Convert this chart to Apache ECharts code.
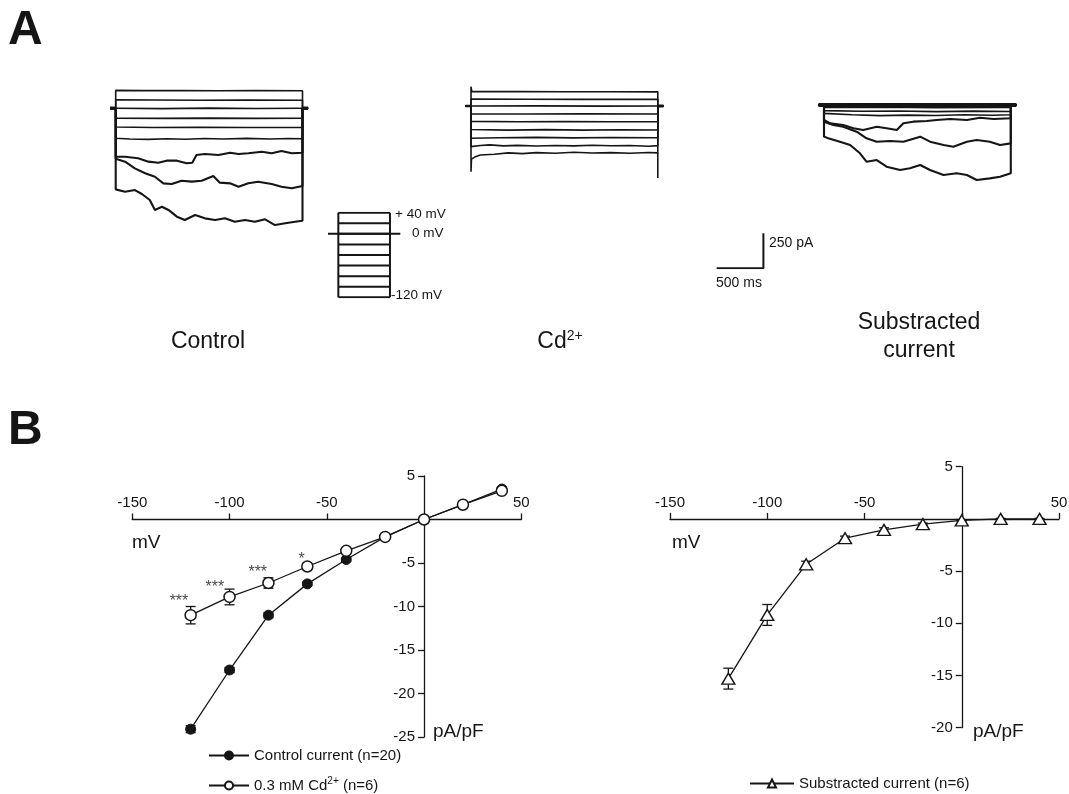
<!DOCTYPE html>
<html>
<head>
<meta charset="utf-8">
<script src="https://cdn.jsdelivr.net/npm/echarts@6/dist/echarts.min.js"></script>
<style>
  html, body { margin: 0; padding: 0; background: #fff; }
  #main { width: 1069px; height: 794px; }
</style>
</head>
<body>
<div id="main"></div>
<script>
// ---- panel A : current traces (t in ms, current in pA, relative to holding) ----
const ctrlP40 = [[0,128],[300,126],[700,127],[1100,125],[1500,126],[2000,125]];
const ctrlP20 = [[0,60],[400,59],[900,58],[1400,59],[2000,58]];
const ctrl0 = [[0,0],[500,-2],[1000,1],[1500,-1],[2000,0]];
const ctrlM20 = [[0,-70],[500,-72],[1000,-70],[1500,-72],[2000,-71]];
const ctrlM40 = [[0,-134],[400,-137],[900,-135],[1400,-137],[2000,-136]];
const ctrlM60 = [[0,-214],[150,-219],[350,-222],[550,-217],[750,-221],[950,-216],[1150,-219],[1400,-215],[1650,-219],[1850,-216],[2000,-218]];
const ctrlM80 = [[0,-345],[100,-346],[240,-357],[350,-381],[455,-389],[545,-374],[655,-374],[760,-393],[820,-389],[865,-334],[955,-326],[1100,-334],[1225,-317],[1315,-326],[1420,-321],[1565,-310],[1670,-321],[1775,-305],[1885,-321],[2000,-317]];
const ctrlM100 = [[0,-360],[100,-381],[205,-429],[315,-464],[420,-489],[510,-536],[600,-541],[705,-517],[815,-524],[920,-517],[1045,-484],[1115,-531],[1225,-536],[1315,-560],[1420,-536],[1525,-524],[1670,-541],[1775,-560],[1885,-571],[2000,-555]];
const ctrlM120 = [[0,-579],[100,-596],[205,-584],[280,-612],[365,-655],[420,-726],[495,-703],[565,-726],[655,-774],[740,-798],[850,-762],[955,-786],[1065,-798],[1170,-786],[1275,-810],[1385,-798],[1490,-810],[1600,-793],[1705,-834],[1815,-821],[1920,-810],[2000,-803]];

const cdP40 = [[0,138],[8,104],[500,103],[1000,102],[1500,102],[2000,101]];
const cdP20 = [[0,49],[600,48],[1200,47],[2000,48]];
const cd0 = [[0,0],[700,1],[1400,-1],[2000,0]];
const cdM20 = [[0,-56],[600,-57],[1200,-56],[2000,-57]];
const cdM40 = [[0,-110],[500,-113],[1000,-111],[1500,-113],[2000,-112]];
const cdM60 = [[0,-168],[400,-172],[800,-169],[1200,-172],[1600,-170],[2000,-171]];
const cdM80 = [[0,-230],[300,-227],[700,-224],[1100,-228],[1500,-225],[2000,-227]];
const cdM100 = [[0,-290],[100,-282],[200,-278],[350,-285],[500,-281],[700,-286],[900,-282],[1100,-285],[1300,-280],[1500,-284],[1700,-282],[1900,-287],[2000,-283]];
const cdM120 = [[0,-470],[5,-380],[40,-365],[100,-350],[250,-345],[400,-335],[550,-340],[700,-333],[900,-338],[1100,-330],[1300,-336],[1500,-333],[1700,-337],[1900,-332],[2000,-335],[2000,-514]];

const subP40 = [[0,8],[1000,8],[2000,8]];
const subP20 = [[0,0],[2000,0]];
const sub0 = [[0,-8],[2000,-8]];
const subM20 = [[0,-18],[600,-16],[1200,-19],[2000,-17]];
const subM40 = [[0,-40],[400,-45],[800,-43],[1200,-47],[1600,-44],[2000,-46]];
const subM60 = [[0,-60],[300,-70],[600,-76],[900,-72],[1200,-75],[1500,-70],[1800,-73],[2000,-70]];
const subM80 = [[0,-107],[65,-131],[205,-143],[315,-166],[420,-179],[565,-155],[670,-166],[780,-179],[850,-131],[955,-119],[1100,-114],[1205,-107],[1350,-100],[1530,-107],[1670,-91],[1815,-100],[2000,-95]];
const subM100 = [[0,-119],[100,-143],[205,-155],[350,-191],[455,-238],[565,-262],[705,-257],[850,-262],[1030,-226],[1135,-262],[1280,-286],[1385,-298],[1530,-262],[1635,-250],[1775,-262],[1885,-286],[2000,-274]];
const subM120 = [[0,-226],[45,-238],[170,-262],[280,-286],[385,-345],[455,-405],[565,-393],[670,-441],[815,-464],[920,-452],[1030,-429],[1135,-464],[1280,-500],[1420,-488],[1530,-500],[1635,-536],[1775,-524],[1885,-512],[2000,-488]];

// voltage protocol (mV)
const stepLevels = [40, 20, 0, -20, -40, -60, -80, -100, -120];
// scale bar (ms, pA)
const scaleBar = [[0, 0], [500, 0], [500, 250]];

// ---- panel B : I-V curves ----
const ivVolt = [-120, -100, -80, -60, -40, -20, 0, 20, 40];
const ctrlIV = [-24.1, -17.3, -11.0, -7.4, -4.6, -2.0, 0, 1.7, 3.5];
const ctrlErr = [0.4, 0.3, 0.3, 0.2, 0.2, 0.1, 0, 0.1, 0.2];
const cdIV = [-11.0, -8.9, -7.3, -5.4, -3.6, -2.0, 0, 1.7, 3.3];
const cdErr = [1.0, 0.9, 0.6, 0.3, 0.3, 0.2, 0, 0.1, 0.2];
const subIV = [-15.3, -9.2, -4.35, -1.85, -1.05, -0.5, -0.15, 0, 0];
const subErr = [1.0, 1.0, 0.3, 0.2, 0.2, 0.1, 0.05, 0.05, 0.05];
const starVolt = [-126, -107.5, -85.5, -63];
const starVal = [-9.4, -7.8, -6.1, -4.6];
const starText = ['***', '***', '***', '*'];

const FONT = '"Liberation Sans", Arial, Helvetica, sans-serif';
const INK = '#151515';
const NAME_CTRL = 'Control current (n=20)';
const NAME_CD = '0.3 mM Cd2+ (n=6)';
const NAME_SUB = 'Substracted current (n=6)';

var chart = echarts.init(document.getElementById('main'));

function traceSeries(idx, pts, width) {
  // holding -> step -> holding
  var d = [[-60, 0], [0, 0]].concat(pts, [[2000, 0], [2060, 0]]);
  return {
    type: 'line', xAxisIndex: idx, yAxisIndex: idx, data: d,
    symbol: 'none', silent: true, animation: false,
    lineStyle: { color: INK, width: width || 1.6 }
  };
}
function stub(idx, a, b, w) {
  return {
    type: 'line', xAxisIndex: idx, yAxisIndex: idx, data: [[a, 0], [b, 0]],
    symbol: 'none', silent: true, animation: false,
    lineStyle: { color: INK, width: w, cap: 'butt' }
  };
}
function plain(idx, d, w) {
  return {
    type: 'line', xAxisIndex: idx, yAxisIndex: idx, data: d,
    symbol: 'none', silent: true, animation: false,
    lineStyle: { color: INK, width: w }
  };
}
function errRender(params, api) {
  var x = api.value(0);
  var lo = api.coord([x, api.value(1)]);
  var hi = api.coord([x, api.value(2)]);
  var w = 5, st = { stroke: INK, lineWidth: 1.3 };
  return {
    type: 'group', children: [
      { type: 'line', shape: { x1: lo[0], y1: lo[1], x2: hi[0], y2: hi[1] }, style: st },
      { type: 'line', shape: { x1: lo[0] - w, y1: lo[1], x2: lo[0] + w, y2: lo[1] }, style: st },
      { type: 'line', shape: { x1: hi[0] - w, y1: hi[1], x2: hi[0] + w, y2: hi[1] }, style: st }
    ]
  };
}
function errSeries(idx, vals, errs) {
  var d = [];
  ivVolt.forEach(function (v, i) {
    if (errs[i] > 0) d.push([v, vals[i] - errs[i], vals[i] + errs[i]]);
  });
  return {
    type: 'custom', xAxisIndex: idx, yAxisIndex: idx, data: d, z: 2,
    renderItem: errRender, silent: true, animation: false,
    encode: { x: 0, y: [1, 2] }
  };
}
function zip(xs, ys) { return xs.map(function (x, i) { return [x, ys[i]]; }); }

function hiddenAxis(idx, min, max) { return { gridIndex: idx, type: 'value', min: min, max: max, show: false }; }

// axes cross at 0: shift with a negative offset instead of onZero
function ivX(idx, offset) {
  return {
    gridIndex: idx, type: 'value', min: -150, max: 50, interval: 50, position: 'top', offset: offset,
    axisLine: { onZero: false, lineStyle: { color: INK, width: 1.3 } },
    axisTick: { show: true, length: 6, lineStyle: { color: INK, width: 1.3 } },
    axisLabel: { fontSize: 15, color: INK, fontFamily: FONT, margin: 9,
      formatter: function (v) { return v === 0 ? '' : v; } },
    splitLine: { show: false }
  };
}
function ivY(idx, min, offset) {
  return {
    gridIndex: idx, type: 'value', min: min, max: 5, interval: 5, position: 'left', offset: offset,
    axisLine: { onZero: false, lineStyle: { color: INK, width: 1.3 } },
    axisTick: { show: true, length: 6, lineStyle: { color: INK, width: 1.3 } },
    axisLabel: { fontSize: 15, color: INK, fontFamily: FONT, margin: 9,
      formatter: function (v) { return v === 0 ? '' : v; } },
    splitLine: { show: false }
  };
}

var grids = [
  { left: 110.1, top: 80.3, width: 198, height: 154 },   // control traces
  { left: 465.4, top: 78, width: 198, height: 154 },     // Cd traces
  { left: 818.4, top: 77, width: 198, height: 154 },     // substracted traces
  { left: 716.7, top: 233.3, width: 46.7, height: 35 },  // scale bar
  { left: 328, top: 212.7, width: 72.3, height: 84.6 },  // protocol
  { left: 132.3, top: 476, width: 389, height: 261 },    // IV left
  { left: 670, top: 466.7, width: 389, height: 261 }     // IV right
].map(function (g) { g.containLabel = false; g.outerBoundsMode = 'none'; return g; });

var series = [];
[ctrlP40, ctrlP20, ctrl0, ctrlM20, ctrlM40, ctrlM60].forEach(function (t) { series.push(traceSeries(0, t)); });
[ctrlM80, ctrlM100, ctrlM120].forEach(function (t) { series.push(traceSeries(0, t, 2.1)); });
series.push(stub(0, -60, 0, 3.5), stub(0, 2000, 2060, 3.5));
[cdP40, cdP20, cd0, cdM20, cdM40, cdM60, cdM80, cdM100, cdM120]
  .forEach(function (t) { series.push(traceSeries(1, t)); });
series.push(stub(1, -60, 0, 2.5), stub(1, 2000, 2060, 3));
series.push(stub(2, -60, 2060, 4));
[subP40, subP20, sub0, subM20, subM40, subM60].forEach(function (t) { series.push(traceSeries(2, t)); });
[subM80, subM100, subM120].forEach(function (t) { series.push(traceSeries(2, t, 2.1)); });

series.push(plain(3, scaleBar, 2));

stepLevels.forEach(function (v) { series.push(plain(4, [[0, v], [1, v]], 2)); });
series.push(plain(4, [[0, -120], [0, 40]], 2), plain(4, [[1, -120], [1, 40]], 2));
series.push(plain(4, [[-0.2, 0], [1.2, 0]], 2));

// IV plots
series.push(errSeries(5, ctrlIV, ctrlErr));
series.push({
  type: 'line', name: NAME_CTRL, xAxisIndex: 5, yAxisIndex: 5, data: zip(ivVolt, ctrlIV),
  symbol: 'circle', symbolSize: 10, z: 3, animation: false,
  itemStyle: { color: INK, borderColor: INK, borderWidth: 1 },
  lineStyle: { color: INK, width: 1.3 }
});
series.push(errSeries(5, cdIV, cdErr));
series.push({
  type: 'line', name: NAME_CD, xAxisIndex: 5, yAxisIndex: 5, data: zip(ivVolt, cdIV),
  symbol: 'circle', symbolSize: 11, z: 4, animation: false,
  itemStyle: { color: '#fff', borderColor: INK, borderWidth: 1.5 },
  lineStyle: { color: INK, width: 1.3 }
});
series.push({
  type: 'scatter', xAxisIndex: 5, yAxisIndex: 5, data: zip(starVolt, starVal),
  symbolSize: 1, itemStyle: { color: 'rgba(0,0,0,0)' }, silent: true, animation: false,
  label: { show: true, position: 'inside', color: INK, fontSize: 16, fontFamily: FONT,
    formatter: function (p) { return starText[p.dataIndex]; } }
});
series.push(errSeries(6, subIV, subErr));
series.push({
  type: 'line', name: NAME_SUB, xAxisIndex: 6, yAxisIndex: 6, data: zip(ivVolt, subIV),
  symbol: 'triangle', symbolSize: [13, 11], z: 4, animation: false,
  itemStyle: { color: '#fff', borderColor: INK, borderWidth: 1.4 },
  lineStyle: { color: INK, width: 1.3 }
});

var legendText = {
  fontSize: 15, color: INK, fontFamily: FONT,
  rich: { sup: { fontSize: 10, color: INK, fontFamily: FONT, padding: [0, 0, 9, 0] } }
};
function legendFmt(n) { return n.replace('Cd2+', 'Cd{sup|2+}'); }
function oneLegend(name, left, top, w) {
  return { data: [name], left: left, top: top, padding: 0,
    itemWidth: w, itemHeight: 10, textStyle: legendText, formatter: legendFmt };
}

function txt(x, y, text, size, opts) {
  opts = opts || {};
  return {
    type: 'text', x: x, y: y, silent: true,
    style: Object.assign({
      text: text, fill: INK, fontSize: size, fontFamily: FONT,
      align: opts.align || 'left', verticalAlign: opts.va || 'middle',
      fontWeight: opts.weight || 'normal', lineHeight: opts.lineHeight
    }, opts.rich ? { rich: opts.rich } : {})
  };
}

var option = {
  backgroundColor: '#fff',
  animation: false,
  grid: grids,
  xAxis: [hiddenAxis(0, -60, 2060), hiddenAxis(1, -60, 2060), hiddenAxis(2, -60, 2060),
    hiddenAxis(3, 0, 500), hiddenAxis(4, -0.2, 1.2), ivX(5, -43.5), ivX(6, -52.2)],
  yAxis: [hiddenAxis(0, -900, 200), hiddenAxis(1, -900, 200), hiddenAxis(2, -900, 200),
    hiddenAxis(3, 0, 250), hiddenAxis(4, -120, 40), ivY(5, -25, -291.75), ivY(6, -20, -291.75)],
  legend: [
    oneLegend(NAME_CTRL, 208, 748, 40),
    oneLegend(NAME_CD, 208, 776, 40),
    oneLegend(NAME_SUB, 749, 776, 44)
  ],
  graphic: [
    txt(8, 31, 'A', 48, { weight: 'bold' }),
    txt(8, 431, 'B', 48, { weight: 'bold' }),
    txt(208, 342, 'Control', 23, { align: 'center' }),
    txt(560, 342, 'Cd{sup|2+}', 23, { align: 'center',
      rich: { sup: { fontSize: 14, fill: INK, fontFamily: FONT, padding: [0, 0, 12, 0] } } }),
    txt(919, 337, 'Substracted\ncurrent', 23, { align: 'center', lineHeight: 28 }),
    txt(395, 214, '+ 40 mV', 13.5),
    txt(412, 233.5, '0 mV', 13.5),
    txt(391, 295, '-120 mV', 13.5),
    txt(769, 243, '250 pA', 14),
    txt(716, 283, '500 ms', 14),
    txt(132, 543, 'mV', 19),
    txt(433, 732, 'pA/pF', 19),
    txt(672, 543, 'mV', 19),
    txt(973, 732, 'pA/pF', 19)
  ],
  series: series
};
chart.setOption(option);
</script>
</body>
</html>
